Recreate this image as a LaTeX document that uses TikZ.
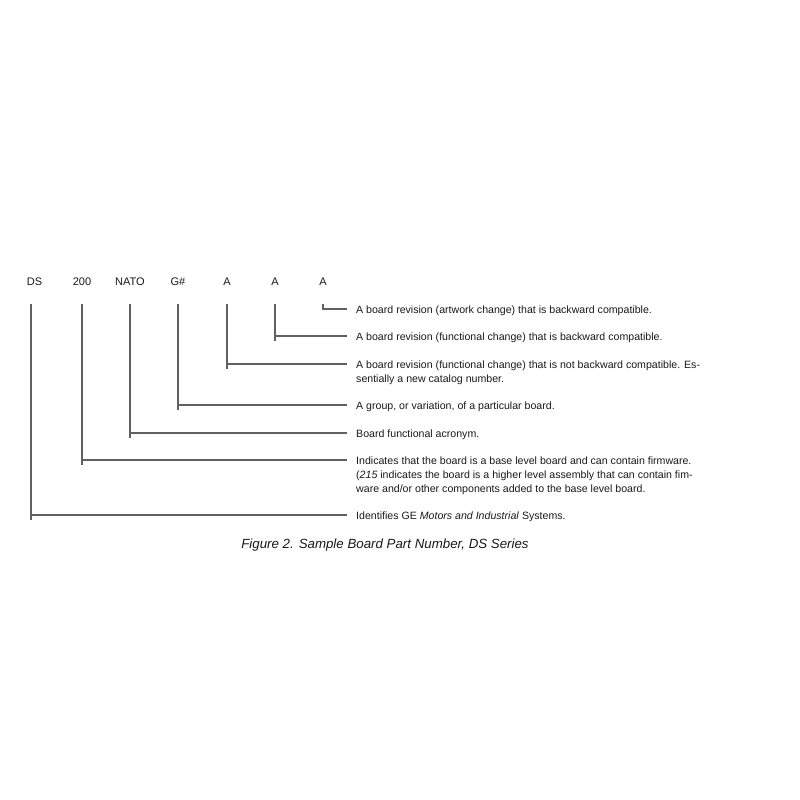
\documentclass[tikz,border=0pt]{standalone}
\usepackage{fontspec}
\setmainfont{Liberation Sans}
\begin{document}
\begin{tikzpicture}[x=1pt,y=-1pt,
  lbl/.style={inner sep=0pt,text height=8pt,text depth=0pt,font=\fontsize{11}{13}\selectfont,text=black!90},
  desc/.style={inner sep=0pt,anchor=base west,align=left,font=\fontsize{10.6}{14}\selectfont,text=black!90},
  conn/.style={draw=black!62,line width=1.3pt}]
\useasboundingbox (0,0) rectangle (800,800);
% part labels
\node[lbl] (ds)   at (34.5,281) {DS};
\node[lbl] (n200) at (82,281) {200};
\node[lbl] (nato) at (130,281) {NATO};
\node[lbl] (grp)  at (178,281) {G\#};
\node[lbl] (a1)   at (227,281) {A};
\node[lbl] (a2)   at (275,281) {A};
\node[lbl] (a3)   at (323,281) {A};
% descriptions (base anchor = baseline of the last line)
\node[desc] (d1) at (356,313) {A board revision (artwork change) that is backward compatible.};
\node[desc] (d2) at (356,340) {A board revision (functional change) that is backward compatible.};
\node[desc] (d3) at (356,382) {A board revision (functional change) that is not backward compatible. Es-\\sentially a new catalog number.};
\node[desc] (d4) at (356,409) {A group, or variation, of a particular board.};
\node[desc] (d5) at (356,437) {Board functional acronym.};
\node[desc] (d6) at (356,492) {Indicates that the board is a base level board and can contain firmware.\\(\textit{215} indicates the board is a higher level assembly that can contain fim-\\ware and/or other components added to the base level board.};
\node[desc] (d7) at (356,519) {Identifies GE \textit{Motors and Industrial} Systems.};
% caption
\node[inner sep=0pt,font=\fontsize{13.3}{15}\itshape,text=black!90] (cap) at (385,545) {Figure 2. Sample Board Part Number, DS Series};
% connectors
\draw[conn] ([yshift=-19pt]a3.south) |- ([xshift=-9pt,yshift=4pt]d1.base west);
\draw[conn] ([yshift=-19pt]a2.south) -- ([yshift=-1pt]a2.south |- d2.base west);
\draw[conn] ([yshift=4pt]a2.south |- d2.base west) -- ([xshift=-9pt,yshift=4pt]d2.base west);
\draw[conn] ([yshift=-19pt]a1.south) -- ([yshift=13pt]a1.south |- d3.base west);
\draw[conn] ([yshift=18pt]a1.south |- d3.base west) -- ([xshift=-9pt,yshift=18pt]d3.base west);
\draw[conn] ([yshift=-19pt]grp.south) -- ([yshift=-1pt]grp.south |- d4.base west);
\draw[conn] ([yshift=4pt]grp.south |- d4.base west) -- ([xshift=-9pt,yshift=4pt]d4.base west);
\draw[conn] ([yshift=-19pt]nato.south) -- ([yshift=-1pt]nato.south |- d5.base west);
\draw[conn] ([yshift=4pt]nato.south |- d5.base west) -- ([xshift=-9pt,yshift=4pt]d5.base west);
\draw[conn] ([yshift=-19pt]n200.south) -- ([yshift=27pt]n200.south |- d6.base west);
\draw[conn] ([yshift=32pt]n200.south |- d6.base west) -- ([xshift=-9pt,yshift=32pt]d6.base west);
\draw[conn] ([xshift=-3.5pt,yshift=-19pt]ds.south) -- ([xshift=-3.5pt,yshift=-1pt]ds.south |- d7.base west);
\draw[conn] ([xshift=-3.5pt,yshift=4pt]ds.south |- d7.base west) -- ([xshift=-9pt,yshift=4pt]d7.base west);
\end{tikzpicture}
\end{document}
